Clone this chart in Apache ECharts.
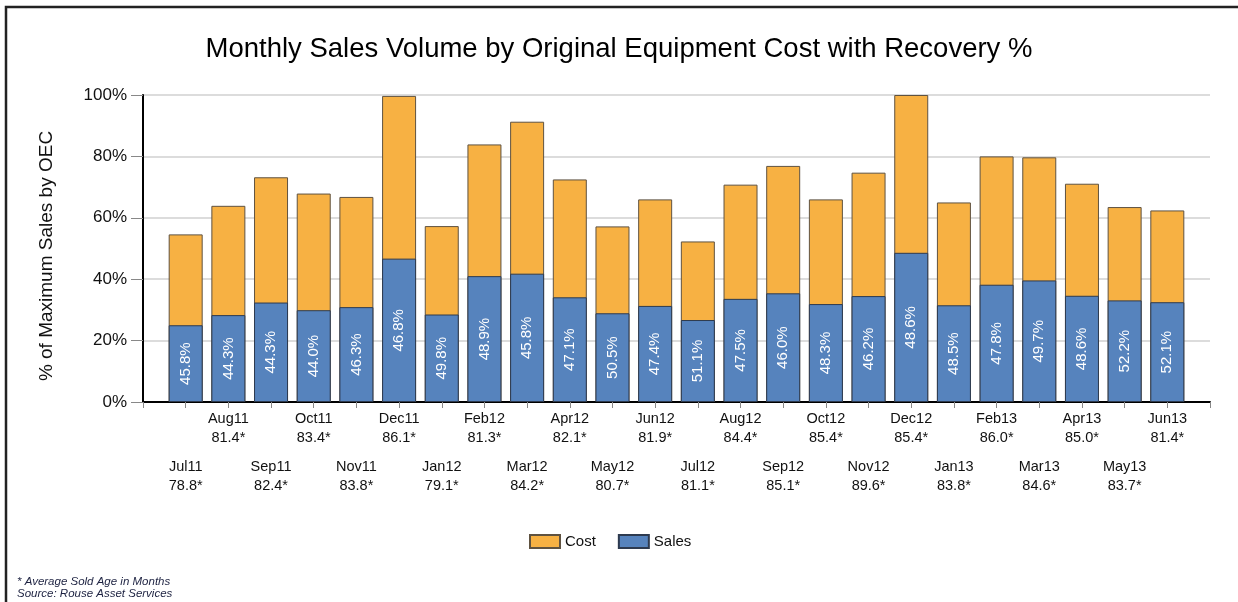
<!DOCTYPE html>
<html>
<head>
<meta charset="utf-8">
<script src="https://cdn.jsdelivr.net/npm/echarts@6/dist/echarts.min.js"></script>
<style>
html,body{margin:0;padding:0;background:#fff;}
#c{width:1238px;height:602px;}
</style>
</head>
<body>
<div id="c"></div>
<script>
const months = ['Jul11','Aug11','Sep11','Oct11','Nov11','Dec11','Jan12','Feb12','Mar12','Apr12','May12','Jun12',
                'Jul12','Aug12','Sep12','Oct12','Nov12','Dec12','Jan13','Feb13','Mar13','Apr13','May13','Jun13'];
const soldAge = ['78.8*','81.4*','82.4*','83.4*','83.8*','86.1*','79.1*','81.3*','84.2*','82.1*','80.7*','81.9*',
                 '81.1*','84.4*','85.1*','85.4*','89.6*','85.4*','83.8*','86.0*','84.6*','85.0*','83.7*','81.4*'];
const costValues = [54.6,63.9,73.2,67.9,66.8,99.7,57.3,83.9,91.3,72.5,57.2,66.0,
                    52.3,70.8,76.9,66.0,74.7,100.0,65.0,80.0,79.7,71.1,63.5,62.4];
const salesValues = [25.0,28.3,32.4,29.9,30.9,46.7,28.5,41.0,41.8,34.1,28.9,31.3,
                     26.7,33.6,35.4,31.9,34.5,48.6,31.5,38.2,39.6,34.6,33.1,32.5];
const recoveryLabels = ['45.8%','44.3%','44.3%','44.0%','46.3%','46.8%','49.8%','48.9%','45.8%','47.1%','50.5%','47.4%',
                        '51.1%','47.5%','46.0%','48.3%','46.2%','48.6%','48.5%','47.8%','49.7%','48.6%','52.2%','52.1%'];
const yTicks = [0,20,40,60,80,100];

const FONT = '"Liberation Sans", Arial, sans-serif';
// padded categories so the axis extends one slot past first/last bar
const cats = [''].concat(months.map((m,i)=>m+'\n'+soldAge[i])).concat(['']);
const costData = [null].concat(costValues).concat([null]);
const salesData = [null].concat(salesValues).concat([null]);

const chart = echarts.init(document.getElementById('c'), null, {renderer:'canvas'});
chart.setOption({
  animation:false,
  backgroundColor:'#fff',
  textStyle:{fontFamily:FONT},
  title:{
    text:'Monthly Sales Volume by Original Equipment Cost with Recovery %',
    left:'center', top:30,
    textStyle:{fontFamily:FONT,fontSize:27.5,fontWeight:'normal',color:'#000'}
  },
  legend:{
    left:524, top:529,
    itemWidth:30, itemHeight:13, itemGap:22,
    icon:'rect',
    data:['Cost','Sales'],
    textStyle:{fontFamily:FONT,fontSize:15,color:'#111'}
  },
  grid:{left:143,right:28,top:95,bottom:200,containLabel:false},
  xAxis:[{
    type:'category',
    data:cats,
    boundaryGap:false,
    axisLine:{show:true,lineStyle:{color:'#000',width:2}},
    axisTick:{show:true,length:6,interval:0,lineStyle:{color:'#888',width:1}},
    axisLabel:{
      interval:function(i){return i>0 && i<25 && i%2===0;},
      margin:8, fontFamily:FONT, fontSize:14.5, lineHeight:18.5, color:'#111'
    },
    splitLine:{show:false}
  },{
    type:'category',
    data:cats,
    boundaryGap:false,
    position:'bottom',
    axisLine:{show:false},
    axisTick:{show:false},
    axisLabel:{
      interval:function(i){return i>0 && i<25 && i%2===1;},
      margin:56, fontFamily:FONT, fontSize:14.5, lineHeight:18.5, color:'#111'
    },
    splitLine:{show:false}
  }],
  yAxis:{
    type:'value',
    min:yTicks[0], max:yTicks[yTicks.length-1], interval:20,
    axisLine:{show:true,lineStyle:{color:'#000',width:2}},
    axisTick:{show:true,length:12,lineStyle:{color:'#888',width:1}},
    axisLabel:{formatter:'{value}%',margin:16,fontFamily:FONT,fontSize:17,color:'#111'},
    splitLine:{show:true,lineStyle:{color:'#dcdcdc',width:2}}
  },
  series:[{
    name:'Cost',
    type:'bar',
    data:costData,
    barWidth:34,
    barGap:'-100%',
    itemStyle:{color:'#F7B143',borderColor:'#5f5240',borderWidth:1}
  },{
    name:'Sales',
    type:'bar',
    data:salesData,
    barWidth:34,
    barGap:'-100%',
    itemStyle:{color:'#5683BD',borderColor:'#2d3a4f',borderWidth:1},
    label:{
      show:true, position:'inside', rotate:90,
      fontFamily:FONT, fontSize:15, color:'#fff',
      formatter:function(p){return recoveryLabels[p.dataIndex-1];}
    }
  }],
  graphic:[{
    type:'rect',
    shape:{x:6,y:7,width:1400,height:800},
    style:{fill:'none',stroke:'#222',lineWidth:2.5},
    silent:true
  },{
    type:'text', x:47, y:256, rotation:Math.PI/2,
    style:{text:'% of Maximum Sales by OEC',font:'19px '+FONT,fill:'#111',
           textAlign:'center',textVerticalAlign:'middle'}
  },{
    type:'text', left:17, top:576,
    style:{text:'* Average Sold Age in Months',font:'italic 11.5px '+FONT,fill:'#1c2140'}
  },{
    type:'text', left:17, top:588,
    style:{text:'Source: Rouse Asset Services',font:'italic 11.5px '+FONT,fill:'#1c2140'}
  }]
});
</script>
</body>
</html>
